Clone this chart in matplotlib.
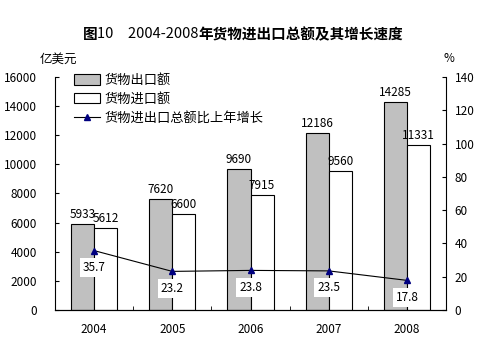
import matplotlib
matplotlib.use("Agg")
import matplotlib.pyplot as plt
import numpy as np
from matplotlib.patches import Patch
from matplotlib.lines import Line2D

plt.rcParams['font.family'] = ['Noto Sans CJK SC', 'DejaVu Sans']

years = ['2004', '2005', '2006', '2007', '2008']
exports = [5933, 7620, 9690, 12186, 14285]
imports = [5612, 6600, 7915, 9560, 11331]
growth = [35.7, 23.2, 23.8, 23.5, 17.8]

fig = plt.figure(figsize=(4.86, 3.39), dpi=100)
ax = fig.add_axes([0.113, 0.0855, 0.805, 0.6875])

x = np.arange(len(years))
w = 0.295
ax.bar(x - w / 2, exports, w, color='#c0c0c0', edgecolor='black', linewidth=0.8)
ax.bar(x + w / 2, imports, w, color='white', edgecolor='black', linewidth=0.8)

for xi, v in zip(x, exports):
    ax.annotate(str(v), (xi - w / 2, v), xytext=(0, 3), textcoords='offset pixels',
                ha='center', va='bottom', fontsize=8.5)
for xi, v in zip(x, imports):
    ax.annotate(str(v), (xi + w / 2, v), xytext=(0, 3), textcoords='offset pixels',
                ha='center', va='bottom', fontsize=8.5)

ax.set_xlim(-0.5, len(years) - 0.5)
ax.set_ylim(0, 16000)
ax.set_yticks(np.arange(0, 16001, 2000))
ax.set_xticks(x)
ax.set_xticklabels(years, fontsize=8.5)
ax.set_xticks(np.arange(-0.5, len(years), 1.0), minor=True)
ax.tick_params(axis='x', which='major', length=0, pad=9)
ax.tick_params(axis='x', which='minor', direction='in', length=3)
ax.tick_params(axis='y', direction='in', length=3, pad=13, labelsize=8.5)
ax.spines['top'].set_visible(False)
ax.spines['right'].set_visible(False)

ax2 = ax.twinx()
ax2.plot(x, growth, color='black', linewidth=0.8, marker='^', markersize=5,
         markerfacecolor='#000080', markeredgecolor='#000080')
ax2.set_ylim(0, 140)
ax2.set_yticks(np.arange(0, 141, 20))
ax2.tick_params(axis='y', direction='in', length=3, pad=6, labelsize=8.5)
ax2.spines['top'].set_visible(False)
ax2.spines['left'].set_visible(False)

for xi, g in zip(x, growth):
    ax2.annotate(f'{g:.1f}', (xi, g), xytext=(0, -17), textcoords='offset pixels',
                 ha='center', va='center', fontsize=8.5,
                 bbox=dict(boxstyle='square,pad=0.25', facecolor='white', edgecolor='none'))

handles = [
    Patch(facecolor='#c0c0c0', edgecolor='black', linewidth=0.8),
    Patch(facecolor='white', edgecolor='black', linewidth=0.8),
    Line2D([0], [0], color='black', linewidth=0.8, marker='^', markersize=5,
           markerfacecolor='#000080', markeredgecolor='#000080'),
]
labels = ['货物出口额', '货物进口额', '货物进出口总额比上年增长']
ax2.legend(handles, labels, loc='upper left', bbox_to_anchor=(0.035, 1.035), frameon=False,
           fontsize=9.5, handlelength=2.0, handleheight=0.8, labelspacing=0.45,
           handletextpad=0.3, borderaxespad=0.0)

# Title: "图" and the description in bold, the figure number and year range in regular weight
renderer = fig.canvas.get_renderer()
parts = [('图', 'bold'), ('10　2004-2008', 'normal'), ('年货物进出口总额及其增长速度', 'bold')]
texts = []
for s, wt in parts:
    t = fig.text(0, 0.9, s, ha='left', va='center', fontsize=10.5, fontweight=wt)
    texts.append(t)
widths = [t.get_window_extent(renderer).width for t in texts]
total = sum(widths)
xpos = (fig.bbox.width - total) / 2
for t, wd in zip(texts, widths):
    t.set_x(xpos / fig.bbox.width)
    xpos += wd

fig.text(0.082, 0.826, '亿美元', ha='left', va='center', fontsize=9)
fig.text(0.912, 0.826, '%', ha='left', va='center', fontsize=8.5)

fig.savefig('out.png', dpi=100)
